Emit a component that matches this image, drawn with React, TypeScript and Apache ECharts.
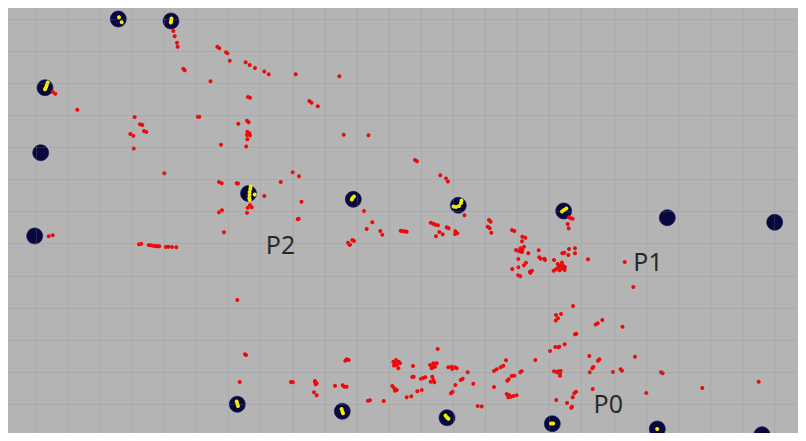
import { useEffect, useRef } from 'react';
import * as echarts from 'echarts';

// Map units: 1 unit = 1 px of the reference picture; grid cell size below.
const CELL = 32.1;
const ORIGIN_X = 3.9;
const ORIGIN_Y = -13.1;
const SPAN_X = 840;
const SPAN_Y = 480;

// Large navy markers
const markers: number[][] = [
  [118.3, 19], [171, 21], [45, 87.7], [40.7, 152.7], [34.7, 236],
  [248.5, 193.5], [353.3, 199.3], [458.3, 205.3], [563.7, 211], [667.3, 217.7], [774.7, 222.3],
  [237.3, 404.3], [342.3, 411.3], [447, 417.7], [552.3, 423.7], [657.3, 429], [762, 434.7],
];

// Yellow points inside markers
const yellowPoints: number[][] = [
  [119, 17.3], [121.7, 22.3],
  [171.5, 18.5], [171.2, 20.8], [170.8, 22.5],
  [47.7, 82.5], [46.8, 85], [46, 87.3], [45, 89.3],
  [250.7, 186.5], [250.3, 189], [249.6, 192], [249.5, 195], [249.3, 198], [249.7, 200], [254.7, 194.5],
  [352.5, 198], [354, 196.5], [351.8, 199.5],
  [453.5, 206.5], [456, 207], [459, 206], [461, 203], [461.5, 200.5],
  [562, 211.5], [564, 210], [566.3, 208.5],
  [236.7, 401.5], [237.3, 403.7], [238, 406],
  [341.6, 409], [342.3, 411.5], [343, 413.3],
  [445.5, 415.5], [447, 417.5], [448.5, 418.7],
  [551, 423.5], [553.2, 423.5],
  [657.2, 429],
];

// Small red points
const redPoints: number[][] = [
  [173.3, 31], [174.7, 36.3], [177, 42.7], [177.7, 46.7],
  [217.3, 46.7], [219.3, 48.3], [226, 52.3], [227.5, 53.2], [229.7, 60.7],
  [245.7, 62.3], [249.7, 65], [255, 68], [264.3, 71.5], [268.7, 74.2],
  [183.3, 68.7], [184.7, 70.3], [210.5, 81.3],
  [52.7, 92], [55.3, 93.7], [77.3, 109.7],
  [134.7, 117], [140, 124.3], [142.3, 125], [144, 131], [146.3, 132],
  [130.3, 134], [133.3, 135.7], [133.7, 148.5],
  [197.7, 116.7], [199.3, 116.7], [238.3, 123.7], [247, 120.7], [248.7, 122.3],
  [248, 97], [250, 97.7],
  [247.3, 131.7], [249.3, 133.3], [247, 135], [250, 135.3], [247.3, 139.3],
  [221, 144.8], [246.2, 146.5],
  [295.7, 74.3], [339.3, 76.3], [309.3, 101], [311.5, 102.7], [317.8, 106.3],
  [343.7, 134.7], [368.5, 135.3],
  [415, 160], [417, 161.3], [440.3, 175.3], [446, 178.5], [448, 181.5],
  [164.3, 173.3],
  [48.7, 236.3], [52.7, 235.3],
  [139, 244.3], [141.3, 243.7], [148.7, 245], [150.7, 245.3], [153.3, 245.7], [155.3, 246],
  [157.3, 246.3], [159.3, 246.3], [165.7, 247], [168.3, 246.7], [172, 247], [176.3, 247.3],
  [219, 182], [221.7, 183.3], [236.7, 183.3], [238, 183.6],
  [250, 205], [251.7, 207.3], [247.7, 207.7], [247, 212.7],
  [264.3, 196], [280.7, 182], [292.7, 172.3], [299, 176.3], [301.5, 201.7],
  [298.7, 218.7], [297.7, 219.3], [219, 212.3], [222, 210.3], [224, 232.3],
  [237.3, 300],
  [348, 242.7], [350, 244.7], [352.3, 240], [354, 241], [349.3, 244.5],
  [364, 211], [372.3, 222.3], [366.7, 229], [380.3, 231], [382.3, 234.7],
  [400.7, 230.7], [402.7, 231.3], [404.7, 231.3], [406.7, 231.7],
  [430.7, 222.7], [433.3, 223.7], [435.3, 224.7], [438, 225.3],
  [446.7, 227.3], [448.7, 228.3], [439.3, 232], [442.7, 234.3], [436, 236.3],
  [455.3, 231.3], [457.3, 233.3], [455, 234], [464.5, 215.2],
  [489, 220], [490.7, 221.7], [487.7, 226.7], [489.7, 228.3], [491.3, 232.7],
  [512, 230], [514.3, 231], [522.3, 236.7], [525.3, 237.7], [522, 241.3],
  [516, 250], [518, 250.7], [520, 251.3], [522.3, 250], [524, 246.7], [522, 252], [520.7, 248.3],
  [528.3, 253.3], [518.3, 259], [526, 262.7], [524, 265.3], [512.3, 269], [518.3, 267.3],
  [518, 275.3], [520.3, 276.3], [530, 271.7], [532, 270.7], [530.3, 272.7],
  [538.7, 250.3], [539.3, 257.3], [540.7, 258.7], [544.3, 258.7], [545, 260], [554, 260],
  [553.7, 270.7], [556, 269.3], [558.3, 267.3], [560, 265.7], [561.7, 264.7], [563.3, 266],
  [562.3, 268.3], [564.7, 270], [559.7, 270.3], [557.7, 264], [562, 262.5], [565, 267],
  [562.3, 253.3], [564.3, 252.7], [568.3, 255], [569, 249], [575, 248.3], [575, 253.3],
  [567.7, 224], [568.7, 228.3], [569, 217.3], [570.7, 218.3], [572.7, 218.7],
  [588, 259.3], [624.7, 262], [633.3, 287], [573, 306],
  [556, 315], [561, 314], [558, 318.3], [555.7, 320.5],
  [595.7, 324.5], [597.7, 323.2], [602.3, 320], [622.5, 326.8],
  [245, 354.3], [246, 355], [239.7, 382], [291, 382], [293, 382.3],
  [315, 382], [316.7, 383.3], [315.7, 384.3], [315, 381], [314, 392.3], [316.7, 395.3],
  [335, 385.7], [342.7, 385.3], [346.7, 386.7], [344.3, 386.7],
  [346.7, 359.3], [348.7, 360], [345.3, 360.7], [368, 400.7], [370, 400.3], [383.7, 401],
  [393.3, 361.7], [396, 360], [398.7, 361.7], [400, 363.3], [396.7, 365], [398.3, 368.3], [395, 363.3], [394, 365.5],
  [392.3, 386], [394.3, 388.3], [396.7, 390], [395, 390.7],
  [413, 366], [412.3, 377], [413.7, 376.7], [406.7, 397.3], [411.3, 396.3],
  [417.3, 391.3], [421.7, 390], [421, 378.7], [423.3, 378], [425.3, 377.3],
  [430, 365], [433.3, 363.3], [435, 366.7], [431.7, 368.3], [436.7, 363.3], [433, 367],
  [432.3, 376.7], [433.3, 380], [430.7, 381.7], [434.3, 382.3], [437.7, 349],
  [448.3, 367.3], [451.7, 366.7], [455, 367.3], [456.7, 368.3], [452.3, 369],
  [451, 393.3], [452.7, 391.7], [455.3, 385], [460.7, 380], [462.7, 378.7],
  [467.7, 372.3], [473.3, 383.7], [477.7, 406], [481.7, 406.5],
  [494, 371], [496.7, 369.3], [494, 387], [500.7, 367.3], [503.3, 365.7], [506, 360.3],
  [511.7, 376], [514.3, 375.7], [507.3, 380.7], [508.7, 379.3], [520.3, 372.3], [521.7, 371.3],
  [535.3, 360], [550, 351], [555.3, 347], [558.3, 347.3], [559.3, 346.7], [564.7, 344.3],
  [575, 334.3], [576.3, 333.7],
  [554, 371.3], [556.7, 372.3], [558.3, 371.3], [560, 373.3], [560.7, 371], [560, 375.7],
  [592.3, 368.3], [593.3, 367], [589.7, 372.3], [589.3, 356], [598, 360.7], [599.3, 359.3],
  [613, 372], [620.7, 369.3], [622, 370.7], [635, 356.7], [661, 372.3], [662.7, 373.3],
  [702.3, 388], [758.7, 381.7], [646.3, 393], [592.7, 389],
  [506.7, 394], [508.3, 397.3], [510.7, 396.7], [513.3, 396], [516.7, 395.3], [509, 395],
  [556.3, 400], [576, 391.7], [574.3, 393.3], [572.7, 397.3], [567, 403],
  [572, 406.7], [571.3, 407.7], [508.3, 439.3],
];

// Region labels (text centre)
const labelNames = ['P0', 'P1', 'P2'];
const labelPositions: number[][] = [[608.3, 403.3], [648, 260.8], [280.5, 244.2]];

export default function App() {
  const ref = useRef<HTMLDivElement>(null);
  useEffect(() => {
    if (!ref.current) return;
    const chart = echarts.init(ref.current, undefined, { renderer: 'svg' });
    const gridAxis = {
      type: 'value' as const,
      min: 0,
      interval: CELL,
      z: 10,
      axisLine: { show: false },
      axisTick: { show: false },
      axisLabel: { show: false },
      splitLine: { show: true, lineStyle: { color: 'rgba(140,140,140,0.24)', width: 1 } },
    };
    chart.setOption({
      animation: false,
      backgroundColor: '#b4b4b4',
      grid: {
        left: ORIGIN_X - 8, top: ORIGIN_Y - 8, width: SPAN_X, height: SPAN_Y,
        containLabel: false, outerBoundsMode: 'none',
      },
      xAxis: [
        { type: 'value', min: ORIGIN_X, max: ORIGIN_X + SPAN_X, show: false },
        { ...gridAxis, max: SPAN_X },
      ],
      yAxis: [
        { type: 'value', min: ORIGIN_Y, max: ORIGIN_Y + SPAN_Y, inverse: true, show: false },
        { ...gridAxis, max: SPAN_Y, inverse: true },
      ],
      series: [
        {
          type: 'scatter', data: markers, symbolSize: 16,
          itemStyle: { color: '#08083f', borderColor: '#14145a', borderWidth: 0.6, opacity: 1 },
          silent: true,
        },
        {
          type: 'scatter', data: yellowPoints, symbolSize: 4,
          itemStyle: { color: '#f2f000', opacity: 1 }, silent: true,
        },
        {
          type: 'scatter', data: redPoints, symbolSize: 4,
          itemStyle: { color: '#ee0a0a', opacity: 1 }, silent: true,
        },
        {
          type: 'scatter', symbolSize: 1,
          data: labelNames.map((n, i) => ({ name: n, value: labelPositions[i] })),
          itemStyle: { color: 'rgba(0,0,0,0)' },
          label: {
            show: true, position: 'inside', formatter: '{b}',
            fontFamily: 'Noto Sans', fontSize: 25, color: '#000000',
          },
          silent: true,
        },
      ],
    });
    return () => chart.dispose();
  }, []);
  return <div ref={ref} style={{ width: 798, height: 433, marginBottom: -8 }} />;
}
